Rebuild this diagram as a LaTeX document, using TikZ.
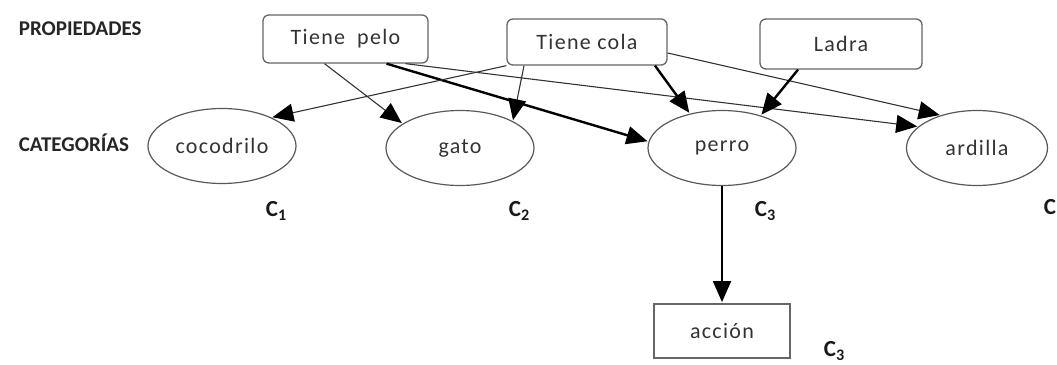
\documentclass[tikz,border=0pt]{standalone}
\usepackage{fontspec}
\setmainfont{Carlito}
\newfontfamily\spacedfont[LetterSpace=6]{Carlito}
\usepackage{tikz}
\usetikzlibrary{arrows.meta, shapes.geometric}

\begin{document}
\begin{tikzpicture}[->,>={Triangle[length=21pt,width=18pt,color=black]},shorten >=1pt,x=1pt,y=-1pt,line width=1.1pt,draw=black!80]
                \tikzset{prop/.style={draw=black!60, rounded corners=6pt, line width=1.3pt, minimum height=48pt,
                                      text=black!80, font=\spacedfont\fontsize{22}{24}\selectfont},
                         cat/.style={draw=black!65, ellipse, line width=1.2pt, minimum width=148pt, minimum height=75pt,
                                     inner sep=0pt, text=black!80, font=\spacedfont\fontsize{22}{24}\selectfont},
                         act/.style={draw=black!60, line width=1.8pt, minimum width=136pt, minimum height=54pt,
                                     text=black!80, font=\spacedfont\fontsize{22}{24}\selectfont},
                         heading/.style={anchor=west, text=black!85, font=\bfseries\fontsize{21}{24}\selectfont},
                         tag/.style={anchor=west, text=black!90, font=\bfseries\fontsize{23}{26}\selectfont},
                         heavy/.style={line width=2.4pt, draw=black}}
                \useasboundingbox (0,0) rectangle (1057,364);

                \node[heading] (props) at (15,29) {PROPIEDADES};
                \node[heading] (cats) at (15,143) {CATEGORÍAS};

                \node[prop, minimum width=165pt] (pelo) at (345.5,39) {Tiene\hspace{12pt}pelo};
                \node[prop, minimum width=160pt, minimum height=46pt] (cola) at (587,42) {Tiene cola};
                \node[prop, minimum width=162pt, minimum height=50pt] (ladra) at (841,44) {Ladra};

                \node[cat] (cocodrilo) at (222,146) {cocodrilo};
                \node[cat] (gato) at (460,148) {gato};
                \node[cat] (perro) at (722,148) {perro};
                \node[cat, minimum width=141pt] (ardilla) at (977,148) {ardilla};

                \node[act] (accion) at (722,331) {acción};

                \node[tag] (c1) at (262,211) {C\textsubscript{1}};
                \node[tag] (c2) at (505,211) {C\textsubscript{2}};
                \node[tag] (c3) at (751,211) {C\textsubscript{3}};
                \node[tag] (c4) at (1040,207) {C};
                \node[tag] (c5) at (820,351) {C\textsubscript{3}};

                \path ([xshift=-21pt]pelo.south) edge              (gato.157);
                \path ([xshift=41pt]pelo.south)  edge[heavy]       (perro.175);
                \path ([xshift=60pt]pelo.south)  edge              (ardilla.160);
                \path (cola.south west)          edge              (cocodrilo.30);
                \path ([xshift=-63pt]cola.south) edge              (gato.27);
                \path ([xshift=68pt]cola.south)  edge[heavy]       (perro.133);
                \path ([yshift=-11pt]cola.east)  edge              (ardilla.138);
                \path ([xshift=-43pt]ladra.south) edge[heavy]      (perro.40);
                \path (perro)                    edge[line width=1.8pt, draw=black] (accion);
            \end{tikzpicture}
\end{document}
